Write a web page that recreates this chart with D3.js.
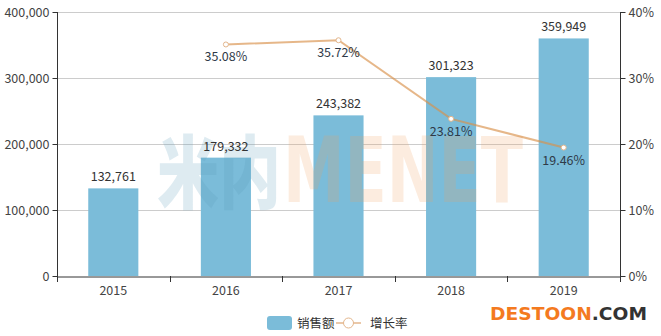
<!DOCTYPE html>
<html><head><meta charset="utf-8">
<script src="https://cdn.jsdelivr.net/npm/d3@7"></script>
<style>body{margin:0;background:#fff}svg{display:block}</style>
</head><body>
<svg id="c" width="661" height="336"></svg>
<script>
const years = ["2015","2016","2017","2018","2019"];
const sales = [132761,179332,243382,301323,359949];
const growthYears = ["2016","2017","2018","2019"];
const growth = [35.08,35.72,23.81,19.46];
const leftTicks = [0,100000,200000,300000,400000];
const rightTicks = [0,10,20,30,40];

const svg = d3.select("#c");
const font = "'Noto Sans CJK SC','Noto Sans',sans-serif";
const L=57,R=620,T=12,B=276;
const x = d3.scaleBand().domain(years).range([L,R]).paddingInner(0.555).paddingOuter(0.2775);
const xb = d3.scaleBand().domain(years).range([L,R]);
const y = d3.scaleLinear().domain([0,400000]).range([B,T]);
const y2 = d3.scaleLinear().domain([0,40]).range([B,T]);

// grid
svg.append("g").selectAll("line").data(leftTicks.slice(1)).join("line")
  .attr("x1",L).attr("x2",R).attr("y1",d=>y(d)+0.5).attr("y2",d=>y(d)+0.5)
  .attr("stroke","#cccccc").attr("stroke-width",1);

// bars
svg.append("g").selectAll("rect").data(years).join("rect")
  .attr("x",(d)=>x(d)).attr("width",x.bandwidth())
  .attr("y",(d,i)=>y(sales[i])).attr("height",(d,i)=>B-y(sales[i]))
  .attr("fill","#7bbcd9");

// watermark (drawn over, translucent)
svg.append("text").attr("x",157).attr("y",202).attr("font-family",font).attr("font-weight",900)
  .attr("font-size",80).attr("fill","#5a9ab8").attr("fill-opacity",0.2).attr("textLength",124).attr("lengthAdjust","spacingAndGlyphs").text("米内");
svg.append("text").attr("x",283).attr("y",202).attr("font-family","'DejaVu Sans',sans-serif").attr("font-weight",700)
  .attr("font-size",90).attr("fill","#f0a060").attr("fill-opacity",0.2).attr("textLength",240).attr("lengthAdjust","spacingAndGlyphs").text("MENET");

// axes
const gl = svg.append("g").attr("transform",`translate(${L+0.5},0)`)
  .call(d3.axisLeft(y).tickValues(leftTicks).tickFormat(d3.format(",")).tickSize(5).tickPadding(3));
const gr = svg.append("g").attr("transform",`translate(${R+0.5},0)`)
  .call(d3.axisRight(y2).tickValues(rightTicks).tickFormat(d=>d+"%").tickSize(5).tickPadding(3));
const gb = svg.append("g").attr("transform",`translate(0,${B+0.5})`)
  .call(d3.axisBottom(xb).tickSize(0).tickPadding(10));
[gl,gr,gb].forEach(g=>{
  g.selectAll("text").attr("font-family",font).attr("font-size",12.5).attr("fill","#444");
  g.selectAll("line").attr("stroke","#333");
  g.select(".domain").attr("stroke","#333");
});
gl.select(".domain").attr("d",`M0,${T}V${B}`);
gr.select(".domain").attr("d",`M0,${T}V${B}`);
svg.append("g").selectAll("line").data(d3.range(years.length+1)).join("line")
  .attr("x1",i=>Math.round(L+i*xb.step())+0.5).attr("x2",i=>Math.round(L+i*xb.step())+0.5)
  .attr("y1",B).attr("y2",B+6).attr("stroke","#333");

// bar labels
svg.append("g").selectAll("text").data(years).join("text")
  .attr("x",d=>x(d)+x.bandwidth()/2).attr("y",(d,i)=>y(sales[i])-7)
  .attr("text-anchor","middle").attr("font-family",font).attr("font-size",12.5).attr("fill","#333")
  .text((d,i)=>d3.format(",")(sales[i]));

// line
const cx = d=>xb(d)+xb.bandwidth()/2;
const line = d3.line().x((d,i)=>cx(growthYears[i])).y(d=>y2(d));
svg.append("path").datum(growth).attr("d",line).attr("fill","none")
  .attr("stroke","#d9914a").attr("stroke-opacity",0.65).attr("stroke-width",2);
svg.append("g").selectAll("circle").data(growth).join("circle")
  .attr("cx",(d,i)=>cx(growthYears[i])).attr("cy",d=>y2(d)).attr("r",2.5)
  .attr("fill","#fff").attr("stroke","#e3b68c").attr("stroke-width",1);
svg.append("g").selectAll("text").data(growth).join("text")
  .attr("x",(d,i)=>cx(growthYears[i])).attr("y",d=>y2(d)+17)
  .attr("text-anchor","middle").attr("font-family",font).attr("font-size",12.5).attr("fill","#2f3a48")
  .text(d=>d.toFixed(2)+"%");

// legend
const lg = svg.append("g");
lg.append("rect").attr("x",267).attr("y",316).attr("width",25).attr("height",14).attr("rx",3).attr("fill","#7bbcd9");
lg.append("text").attr("x",297).attr("y",327.5).attr("font-family",font).attr("font-size",12.5).attr("fill","#333").text("销售额");
lg.append("line").attr("x1",336).attr("x2",361).attr("y1",323).attr("y2",323).attr("stroke","#e3b68c").attr("stroke-width",1.5);
lg.append("circle").attr("cx",348.5).attr("cy",323).attr("r",5).attr("fill","#fff").attr("stroke","#e3b68c").attr("stroke-width",1);
lg.append("text").attr("x",370).attr("y",327.5).attr("font-family",font).attr("font-size",12.5).attr("fill","#333").text("增长率");

// brand
const br = svg.append("text").attr("x",490).attr("y",320).attr("font-family","'DejaVu Sans',sans-serif")
  .attr("font-weight",700).attr("font-size",18).attr("textLength",157).attr("lengthAdjust","spacingAndGlyphs");
br.append("tspan").attr("fill","#f47a1f").text("DESTOON");
br.append("tspan").attr("fill","#333").text(".COM");
</script>
</body></html>
